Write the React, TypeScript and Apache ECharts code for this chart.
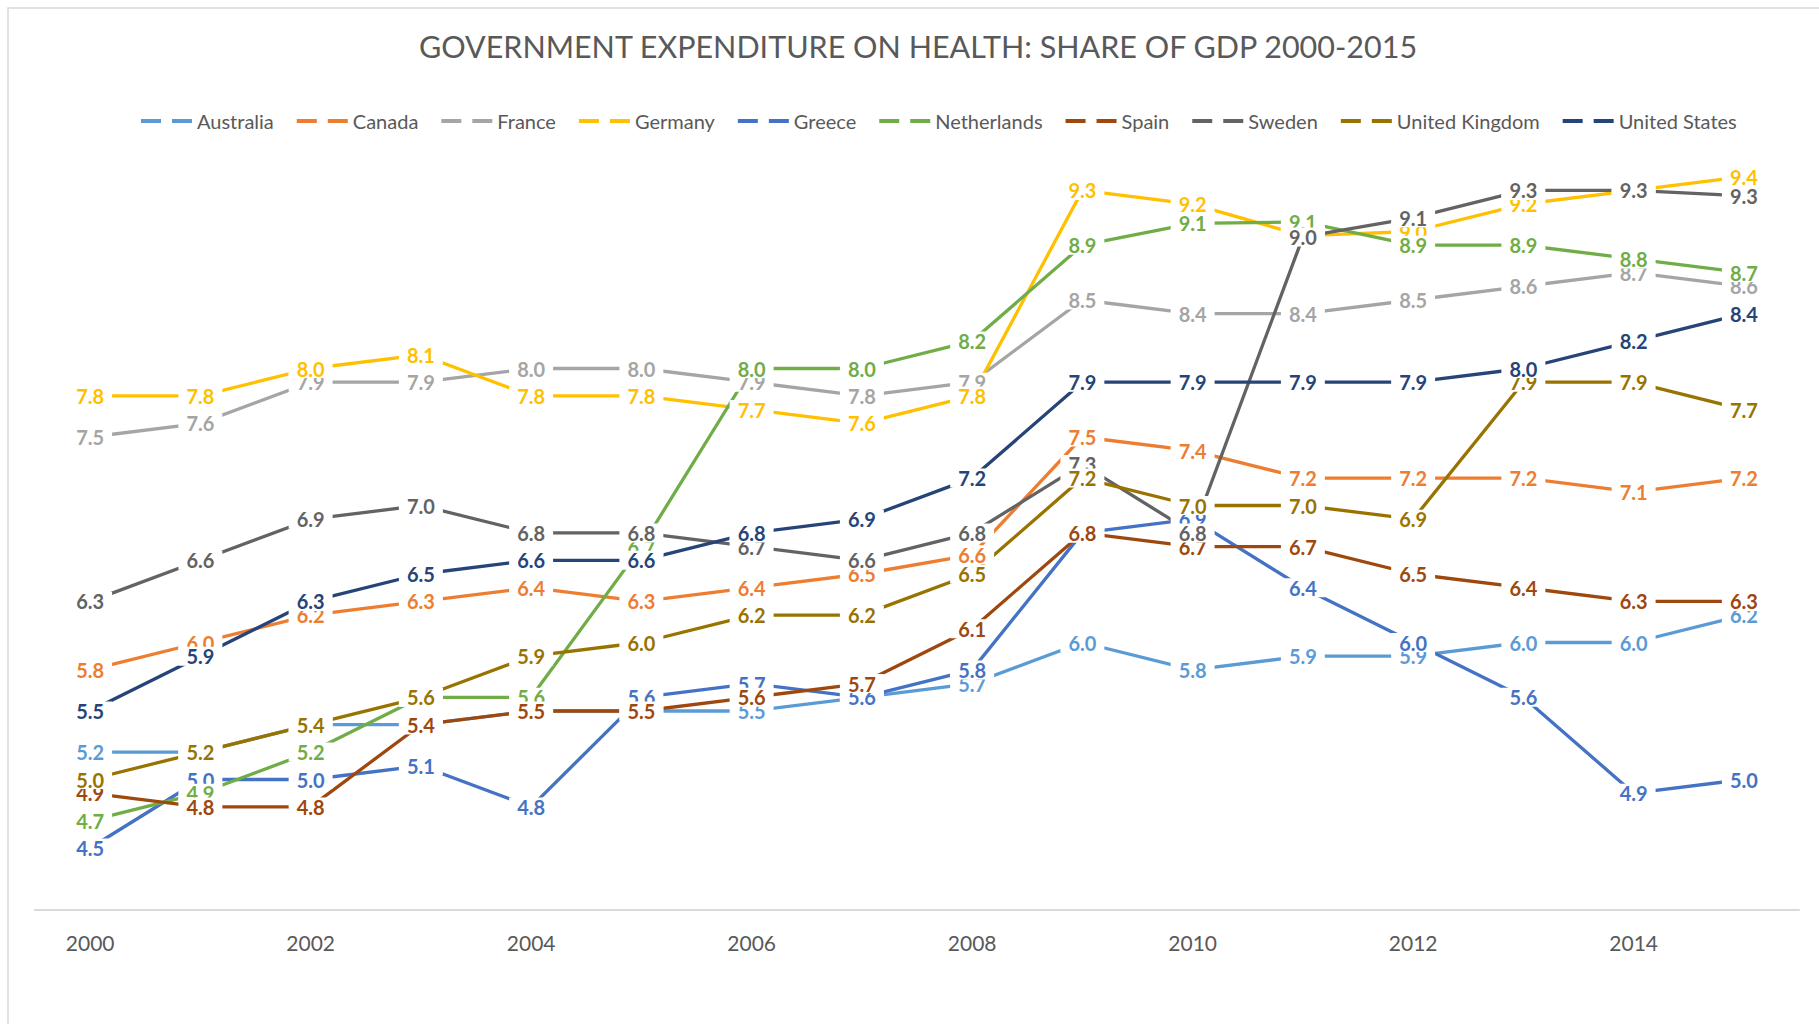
import React, { useEffect, useRef } from "react";
import * as echarts from "echarts";

const years = ["2000","2001","2002","2003","2004","2005","2006","2007","2008","2009","2010","2011","2012","2013","2014","2015"];

const australia = [5.2, 5.2, 5.4, 5.4, 5.5, 5.5, 5.5, 5.6, 5.7, 6.0, 5.8, 5.9, 5.9, 6.0, 6.0, 6.2];
const canada = [5.8, 6.0, 6.2, 6.3, 6.4, 6.3, 6.4, 6.5, 6.64, 7.5, 7.4, 7.2, 7.2, 7.2, 7.1, 7.2];
const france = [7.5, 7.6, 7.9, 7.9, 8.0, 8.0, 7.9, 7.8, 7.9, 8.5, 8.4, 8.4, 8.5, 8.6, 8.7, 8.6];
const germany = [7.8, 7.8, 8.0, 8.1, 7.8, 7.8, 7.7, 7.6, 7.8, 9.3, 9.2, 8.97, 9.0, 9.2, 9.3, 9.4];
const greece = [4.5, 5.0, 5.0, 5.1, 4.8, 5.6, 5.7, 5.6, 5.8, 6.8, 6.9, 6.4, 6.0, 5.6, 4.9, 5.0];
const netherlands = [4.7, 4.9, 5.2, 5.6, 5.6, 6.7, 8.0, 8.0, 8.2, 8.9, 9.06, 9.07, 8.9, 8.9, 8.8, 8.7];
const spain = [4.9, 4.8, 4.8, 5.4, 5.5, 5.5, 5.6, 5.7, 6.1, 6.8, 6.7, 6.7, 6.5, 6.4, 6.3, 6.3];
const sweden = [6.3, 6.6, 6.9, 7.0, 6.8, 6.8, 6.7, 6.6, 6.8, 7.3, 6.8, 8.96, 9.1, 9.3, 9.3, 9.26];
const unitedKingdom = [5.0, 5.2, 5.4, 5.6, 5.9, 6.0, 6.2, 6.2, 6.5, 7.2, 7.0, 7.0, 6.9, 7.9, 7.9, 7.7];
const unitedStates = [5.5, 5.9, 6.3, 6.5, 6.6, 6.6, 6.8, 6.9, 7.2, 7.9, 7.9, 7.9, 7.9, 8.0, 8.2, 8.4];

const seriesNames = ["Australia","Canada","France","Germany","Greece","Netherlands","Spain","Sweden","United Kingdom","United States"];
const seriesData = [australia, canada, france, germany, greece, netherlands, spain, sweden, unitedKingdom, unitedStates];
const seriesColors = ["#5B9BD5","#ED7D31","#A5A5A5","#FFC000","#4472C4","#70AD47","#9E480E","#636363","#997300","#264478"];

const titleText = "GOVERNMENT EXPENDITURE ON HEALTH: SHARE OF GDP 2000-2015";
const FONT = "Lato";

export default function App() {
  const ref = useRef<HTMLDivElement>(null);
  useEffect(() => {
    if (!ref.current) return;
    const chart = echarts.init(ref.current, null, { renderer: "svg" });
    chart.setOption({
      animation: false,
      backgroundColor: "#ffffff",
      textStyle: { fontFamily: FONT },
      title: {
        text: titleText,
        left: 913,
        textAlign: "center",
        top: 22,
        textStyle: { fontFamily: FONT, fontSize: 30.5, fontWeight: "normal", color: "#595959", lineHeight: 38 },
      },
      legend: {
        top: 106,
        left: 136,
        itemWidth: 51,
        itemHeight: 4,
        itemGap: 23,
        icon: "path://M0,0H20V4H0Z M31,0H51V4H31Z",
        itemStyle: { borderWidth: 0 },
        textStyle: { fontFamily: FONT, fontSize: 20, color: "#595959" },
        data: seriesNames,
      },
      grid: { left: 35, right: 20, top: 94.5, bottom: 107.5, containLabel: false },
      xAxis: {
        type: "category",
        data: years,
        boundaryGap: true,
        offset: -6.5,
        axisLine: { show: true, lineStyle: { color: "#D9D9D9", width: 2 } },
        axisTick: { show: false },
        axisLabel: {
          interval: 1,
          margin: 22,
          fontFamily: FONT,
          fontSize: 21,
          color: "#595959",
        },
        splitLine: { show: false },
      },
      yAxis: {
        type: "value",
        min: 4,
        max: 10,
        show: false,
        splitLine: { show: false },
      },
      graphic: [
        {
          type: "rect",
          shape: { x: 8, y: 8, width: 2000, height: 2000 },
          style: { fill: "none", stroke: "#D9D9D9", lineWidth: 1.5 },
          silent: true,
        },
      ],
      series: seriesNames.map((name, i) => ({
        name,
        type: "line",
        data: seriesData[i],
        color: seriesColors[i],
        symbol: "circle",
        symbolSize: 1,
        showSymbol: true,
        itemStyle: { color: seriesColors[i] },
        lineStyle: { color: seriesColors[i], width: 3.3 },
        label: {
          show: true,
          position: "inside",
          formatter: (p: any) => Number(p.value).toFixed(1),
          fontFamily: FONT,
          fontSize: 20,
          fontWeight: "bold",
          lineHeight: 17,
          color: seriesColors[i],
          backgroundColor: "#ffffff",
          padding: [1, 8, 1, 8],
        },
        emphasis: { disabled: true },
      })),
    });
    return () => chart.dispose();
  }, []);
  return (
    <div
      ref={ref}
      style={{ position: "fixed", left: 0, top: 0, width: 1819, height: 1024 }}
    />
  );
}
